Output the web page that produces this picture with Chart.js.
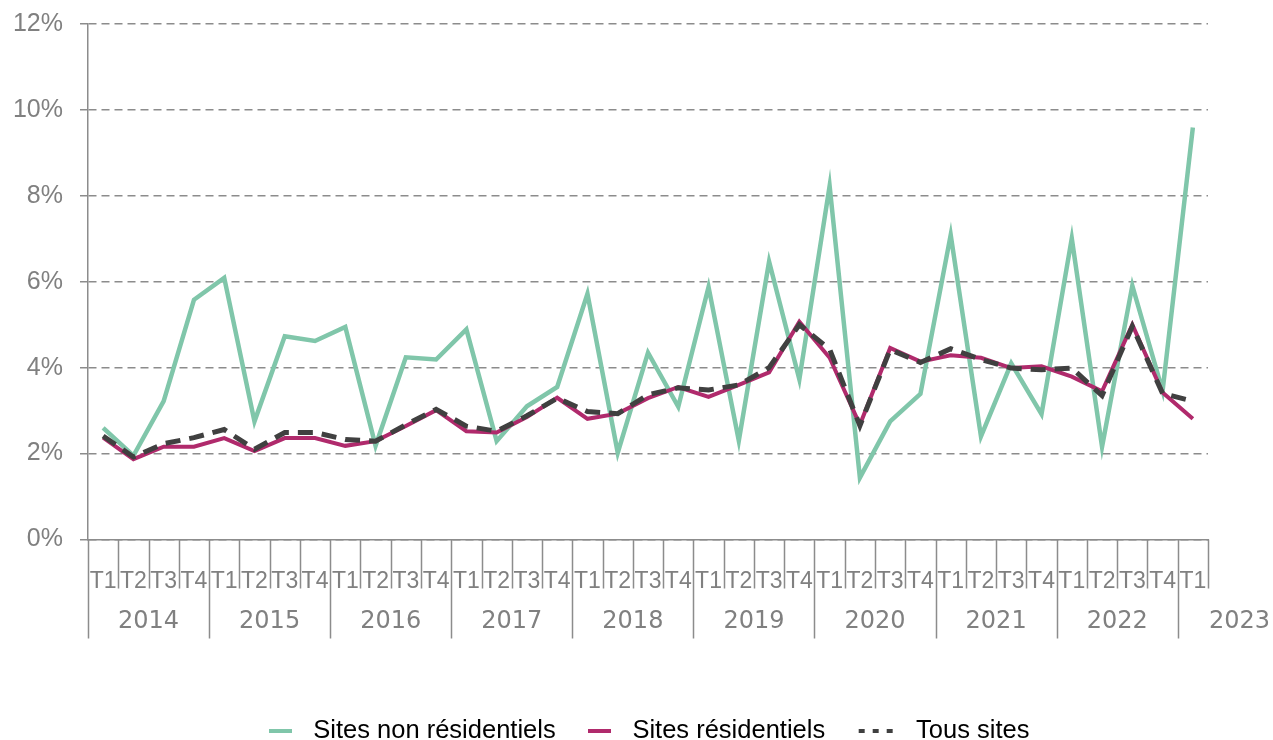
<!DOCTYPE html>
<html>
<head>
<meta charset="utf-8">
<title>Taux trimestriels</title>
<script src="https://cdn.jsdelivr.net/npm/chart.js@4"></script>
<style>
  html, body { margin: 0; padding: 0; background: #fff; }
  #wrap { width: 1273px; height: 740px; }
</style>
</head>
<body>
<div id="wrap"><canvas id="chart"></canvas></div>
<script>
// quarters 2014 T1 -> 2023 T1
const quarterLabels = [
  'T1','T2','T3','T4', 'T1','T2','T3','T4', 'T1','T2','T3','T4',
  'T1','T2','T3','T4', 'T1','T2','T3','T4', 'T1','T2','T3','T4',
  'T1','T2','T3','T4', 'T1','T2','T3','T4', 'T1','T2','T3','T4',
  'T1'
];
const yearLabels = ['2014','2015','2016','2017','2018','2019','2020','2021','2022','2023'];
const quartersPerYear = [4, 4, 4, 4, 4, 4, 4, 4, 4, 1];

const nonResidentiels = [
  2.60, 1.95, 3.22, 5.58, 6.09, 2.75, 4.73, 4.62, 4.95, 2.18, 4.24, 4.19,
  4.89, 2.29, 3.10, 3.55, 5.72, 2.02, 4.35, 3.09, 5.88, 2.30, 6.47, 3.73,
  8.23, 1.44, 2.75, 3.39, 7.09, 2.40, 4.10, 2.92, 7.01, 2.16, 5.91, 3.46,
  9.59
];
const residentiels = [
  2.37, 1.87, 2.16, 2.16, 2.36, 2.06, 2.36, 2.36, 2.18, 2.29, 2.64, 3.01,
  2.52, 2.49, 2.85, 3.30, 2.81, 2.93, 3.29, 3.55, 3.32, 3.60, 3.89, 5.07,
  4.23, 2.67, 4.46, 4.14, 4.29, 4.23, 3.99, 4.03, 3.79, 3.45, 5.00, 3.42,
  2.81
];
const tousSites = [
  2.41, 1.92, 2.23, 2.37, 2.56, 2.10, 2.49, 2.49, 2.33, 2.29, 2.67, 3.03,
  2.64, 2.52, 2.88, 3.29, 2.98, 2.93, 3.37, 3.53, 3.48, 3.60, 4.00, 5.00,
  4.43, 2.65, 4.42, 4.12, 4.44, 4.19, 3.99, 3.95, 3.99, 3.35, 4.96, 3.40,
  3.22
];
const yTicks = [0, 2, 4, 6, 8, 10, 12];

const GREEN = '#80c6aa';
const MAGENTA = '#b02a6c';
const DARK = '#404040';
const AXIS = '#8c8c8c';
const LABEL = '#808080';

// small canvases used as legend markers
function marker(color, dashes) {
  const c = document.createElement('canvas');
  c.height = 4;
  if (dashes) {
    // three short dashes, shifted towards the right of the box
    c.width = 53;
    const g = c.getContext('2d');
    g.fillStyle = color;
    for (let i = 0; i < 3; i++) g.fillRect(16 + i * 14, 0, 6, 4);
  } else {
    c.width = 23;
    const g = c.getContext('2d');
    g.fillStyle = color;
    g.fillRect(0, 0, 23, 4);
  }
  return c;
}
const markers = [marker(GREEN), marker(MAGENTA), marker(DARK, true)];
const legendText = ['Sites non résidentiels', 'Sites résidentiels', '  Tous sites'];

// quarter ticks, year separators and year names under the x axis
const axisDecor = {
  id: 'axisDecor',
  afterLayout(chart) {
    const lg = chart.legend;
    lg.left += 41;
    lg.right += 41;
    lg.top += 14;
    lg.bottom += 14;
  },
  afterDraw(chart) {
    const { ctx, chartArea } = chart;
    const x = chart.scales.x;
    const n = quarterLabels.length;
    const half = (x.getPixelForValue(1) - x.getPixelForValue(0)) / 2;
    const edge = i => (i < n ? x.getPixelForValue(i) - half : x.getPixelForValue(n - 1) + half);
    const bottom = chartArea.bottom;

    ctx.save();
    ctx.strokeStyle = AXIS;
    ctx.lineWidth = 1.5;
    ctx.beginPath();
    for (let i = 1; i <= n; i++) {
      const px = Math.round(edge(i)) + 0.5;
      ctx.moveTo(px, bottom);
      ctx.lineTo(px, bottom + 49);
    }
    let start = 0;
    quartersPerYear.forEach(q => {
      const px = Math.round(edge(start)) + 0.5;
      ctx.moveTo(px, bottom);
      ctx.lineTo(px, bottom + 99);
      start += q;
    });
    ctx.stroke();

    ctx.fillStyle = LABEL;
    ctx.font = '24px "DejaVu Sans"';
    ctx.textBaseline = 'middle';
    start = 0;
    quartersPerYear.forEach((q, k) => {
      if (q > 1) {
        ctx.textAlign = 'center';
        ctx.fillText(yearLabels[k], (edge(start) + edge(start + q)) / 2, bottom + 82);
      } else {
        ctx.textAlign = 'left';
        ctx.fillText(yearLabels[k], edge(start + q) + 1, bottom + 82);
      }
      start += q;
    });
    ctx.restore();
  }
};

const ctx = document.getElementById('chart').getContext('2d');

const chart = new Chart(ctx, {
  type: 'line',
  data: {
    labels: quarterLabels,
    datasets: [
      {
        label: 'Sites non résidentiels',
        data: nonResidentiels,
        borderColor: GREEN,
        borderWidth: 4.5,
        order: 3
      },
      {
        label: 'Sites résidentiels',
        data: residentiels,
        borderColor: MAGENTA,
        borderWidth: 4,
        order: 2
      },
      {
        label: 'Tous sites',
        data: tousSites,
        borderColor: DARK,
        borderWidth: 5,
        borderDash: [15, 9],
        order: 1
      }
    ]
  },
  options: {
    responsive: true,
    maintainAspectRatio: false,
    animation: false,
    elements: {
      point: { radius: 0 },
      line: { tension: 0, fill: false, borderCapStyle: 'butt', borderJoinStyle: 'miter' }
    },
    layout: { padding: { top: 24, right: 65, left: 0, bottom: 0 } },
    scales: {
      x: {
        offset: true,
        grid: { display: false },
        border: { display: true, color: AXIS, width: 1.5 },
        ticks: {
          autoSkip: false,
          maxRotation: 0,
          padding: 20,
          color: LABEL,
          font: { family: '"Liberation Sans", Arial, sans-serif', size: 23 }
        },
        afterFit(scale) { scale.height = 141; }
      },
      y: {
        min: 0,
        max: 12,
        afterBuildTicks(scale) { scale.ticks = yTicks.map(v => ({ value: v })); },
        grid: {
          color: AXIS,
          lineWidth: 1.5,
          tickLength: 8,
          tickBorderDash: [],
          tickColor: AXIS
        },
        border: { display: true, color: AXIS, width: 1.5, dash: [8, 5] },
        ticks: {
          padding: 17,
          color: LABEL,
          font: { family: '"Liberation Sans", Arial, sans-serif', size: 25 },
          callback: v => v + '%'
        },
        afterFit(scale) {
          scale.width = 88;
          scale.paddingTop = 0;
          scale.paddingBottom = 0;
        }
      }
    },
    plugins: {
      tooltip: { enabled: false },
      legend: {
        position: 'bottom',
        labels: {
          usePointStyle: true,
          pointStyleWidth: 40,
          padding: 24,
          color: '#262626',
          font: { family: '"Liberation Sans", Arial, sans-serif', size: 25.5 },
          generateLabels(chart) {
            return chart.data.datasets.map((ds, i) => ({
              text: legendText[i],
              pointStyle: markers[i],
              fillStyle: ds.borderColor,
              strokeStyle: ds.borderColor,
              lineWidth: 0,
              hidden: false,
              datasetIndex: i
            }));
          }
        }
      }
    }
  },
  plugins: [axisDecor]
});
</script>
</body>
</html>
